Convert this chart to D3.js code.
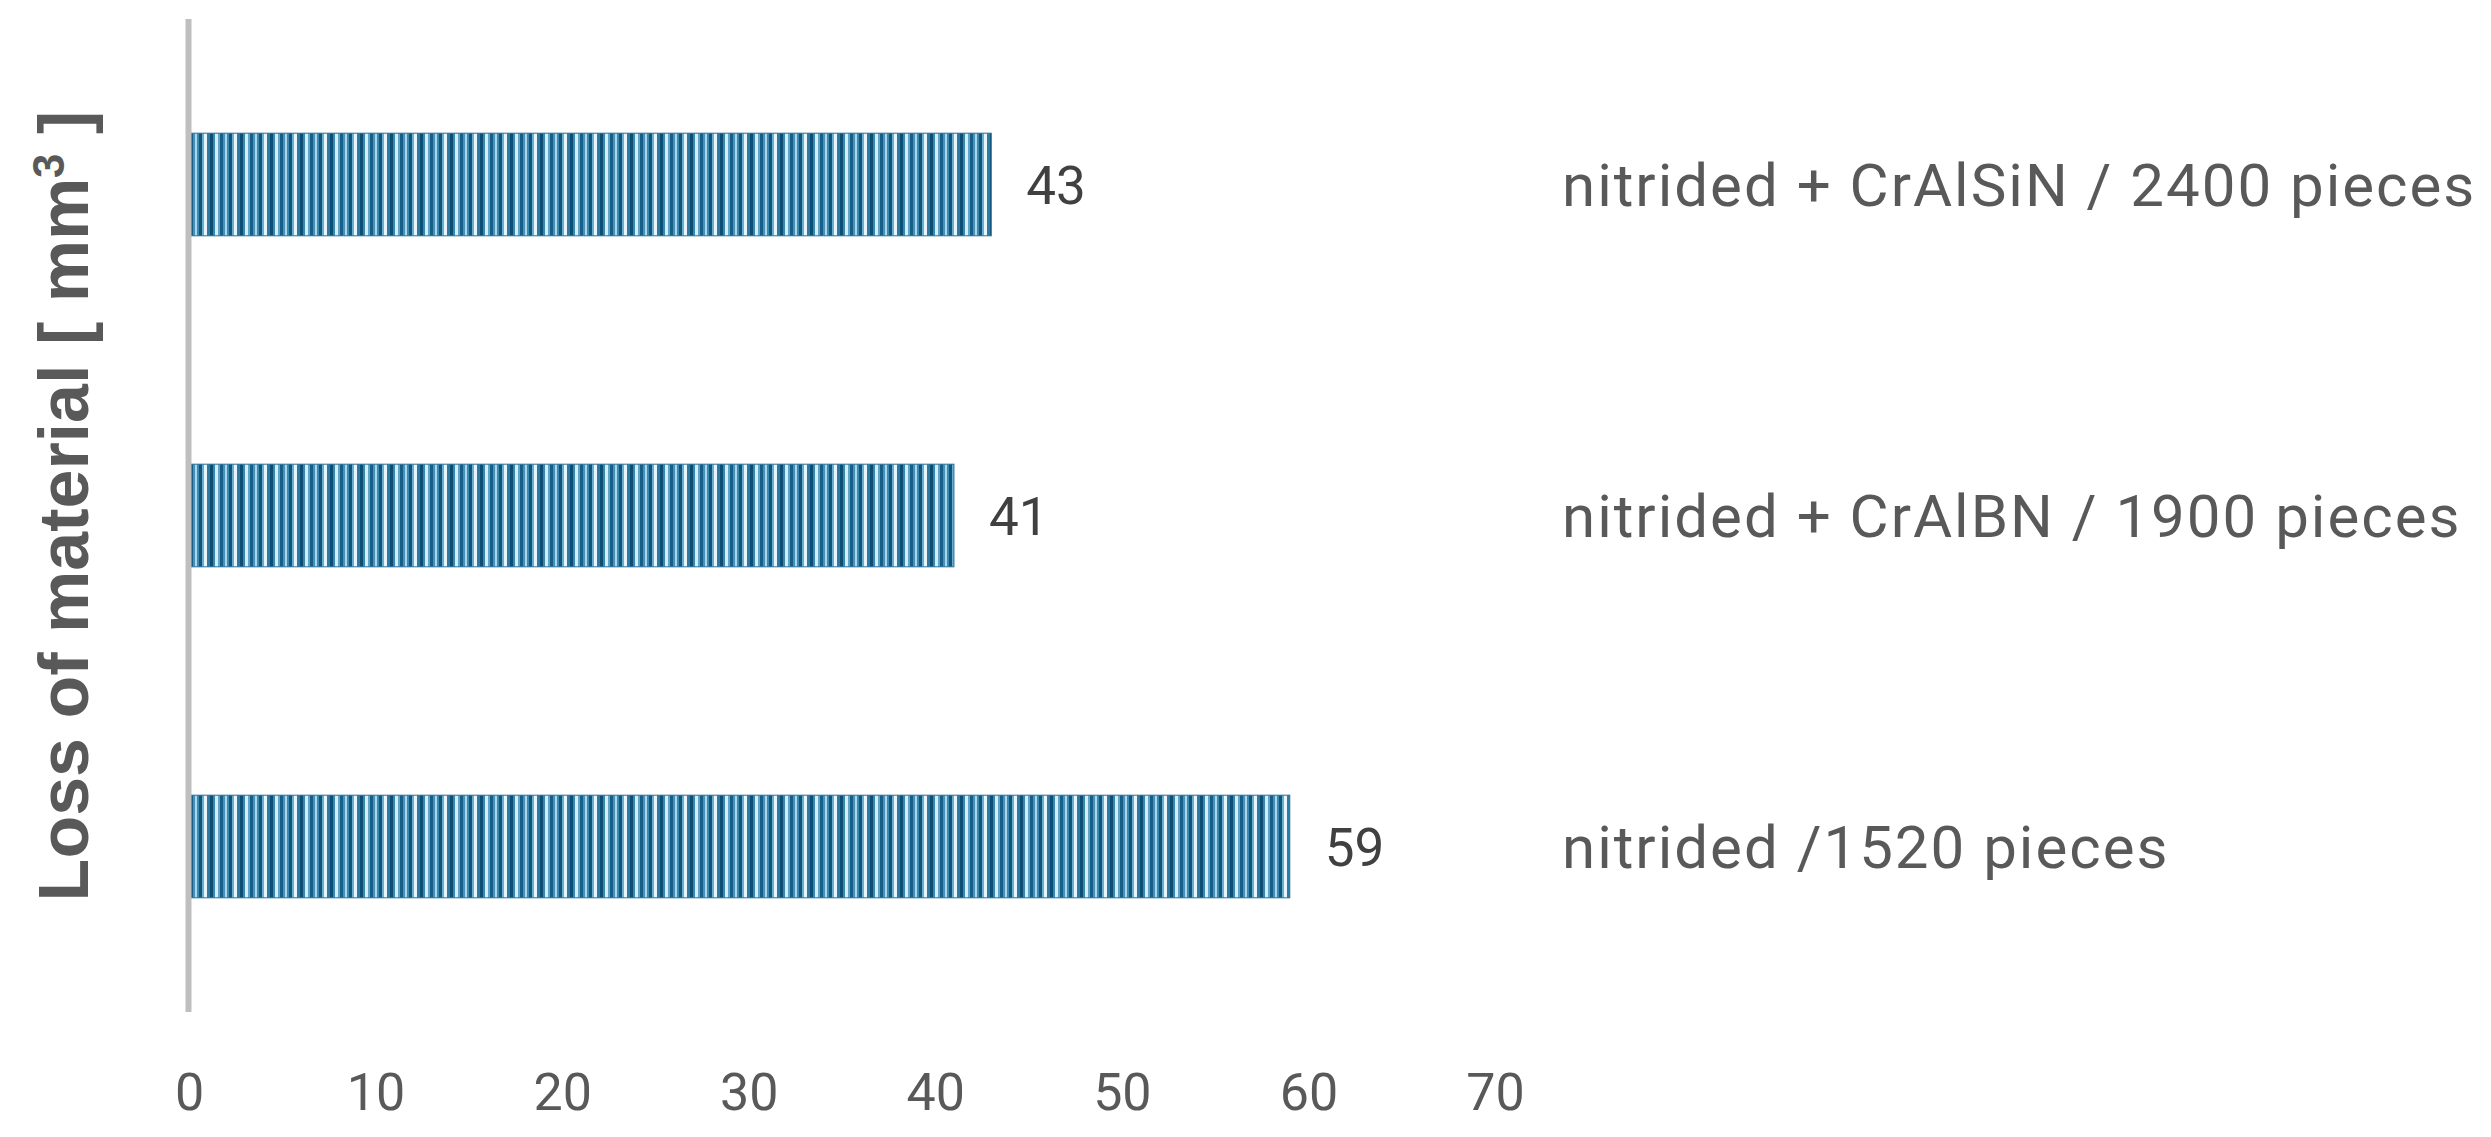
<!DOCTYPE html>
<html>
<head>
<meta charset="utf-8">
<script src="https://cdn.jsdelivr.net/npm/d3@7"></script>
<style>
  html, body { margin: 0; padding: 0; background: #ffffff; }
  svg { display: block; }
</style>
</head>
<body>
<script>
// ---- data ----
const categories = [
  "nitrided + CrAlSiN / 2400 pieces",
  "nitrided + CrAlBN / 1900 pieces",
  "nitrided /1520 pieces"
];
const values = [43, 41, 59];
const xTicks = [0, 10, 20, 30, 40, 50, 60, 70];
const yTitle = "Loss of material [ mm";
const yTitleSup = "3";
const yTitleEnd = " ]";

// ---- layout ----
const W = 2491, H = 1137;
const svg = d3.select("body").append("svg").attr("width", W).attr("height", H);
svg.append("rect").attr("width", W).attr("height", H).attr("fill", "#ffffff");

const x = d3.scaleLinear().domain([0, 70]).range([189, 1495]);
const y = d3.scaleBand().domain(categories).range([19, 1012]).paddingInner(0.69).paddingOuter(0.345);

// stripe pattern
const defs = svg.append("defs");
const pat = defs.append("pattern").attr("id", "stripes")
  .attr("patternUnits", "userSpaceOnUse").attr("width", 30).attr("height", 10);
const stripes = [
  [0, 3, "#0d4f74"], [3, 2, "#3a86ad"], [5, 3, "#d2ecf8"], [8, 2, "#5ea5c8"],
  [10, 3, "#175f88"], [13, 2, "#4890b6"], [15, 2, "#a8d6ec"], [17, 2, "#3d89b0"],
  [19, 3, "#0f5579"], [22, 2, "#6aaccd"], [24, 3, "#e6f5fc"], [27, 3, "#2f7aa2"]
];
stripes.forEach(s => pat.append("rect").attr("x", s[0]).attr("y", 0).attr("width", s[1]).attr("height", 10).attr("fill", s[2]));

// bars
svg.append("g").selectAll("rect").data(categories).join("rect")
  .attr("x", x(0))
  .attr("y", d => y(d))
  .attr("width", (d, i) => x(values[i]) - x(0))
  .attr("height", y.bandwidth())
  .attr("fill", "url(#stripes)")
  .attr("stroke", "#2a6f96").attr("stroke-width", 1);

// y axis line
svg.append("line")
  .attr("x1", x(0) - 0.5).attr("x2", x(0) - 0.5)
  .attr("y1", 19).attr("y2", 1012)
  .attr("stroke", "#bfbfbf").attr("stroke-width", 6);

// x tick labels
const xAxis = d3.axisBottom(x).tickValues(xTicks).tickSize(0).tickPadding(0).tickFormat(d3.format("d"));
const gx = svg.append("g").attr("transform", "translate(0,1072)").call(xAxis);
gx.select(".domain").remove();
gx.selectAll("text")
  .attr("dy", null).attr("y", 38)
  .attr("font-family", "Roboto, 'Liberation Sans', sans-serif")
  .attr("font-size", 52).attr("fill", "#595959");

// value labels
svg.append("g").selectAll("text").data(categories).join("text")
  .attr("x", (d, i) => x(values[i]) + 35)
  .attr("y", d => y(d) + y.bandwidth() / 2 + 19)
  .attr("font-family", "Roboto, 'Liberation Sans', sans-serif")
  .attr("font-size", 53).attr("fill", "#404040")
  .text((d, i) => values[i]);

// category labels (right side)
svg.append("g").selectAll("text").data(categories).join("text")
  .attr("x", 1562)
  .attr("y", d => y(d) + y.bandwidth() / 2 + 21)
  .attr("font-family", "Roboto, 'Liberation Sans', sans-serif")
  .attr("font-size", 60).attr("letter-spacing", 2).attr("fill", "#595959")
  .text(d => d);

// y title
const t = svg.append("text")
  .attr("transform", "translate(88,506) rotate(-90)")
  .attr("text-anchor", "middle")
  .attr("font-family", "'Liberation Sans Narrow', 'Liberation Sans', sans-serif")
  .attr("font-weight", "bold")
  .attr("font-size", 70).attr("fill", "#595959");
t.append("tspan").text(yTitle);
t.append("tspan").attr("baseline-shift", "super").attr("font-size", 44).text(yTitleSup);
t.append("tspan").text(yTitleEnd);
</script>
</body>
</html>
